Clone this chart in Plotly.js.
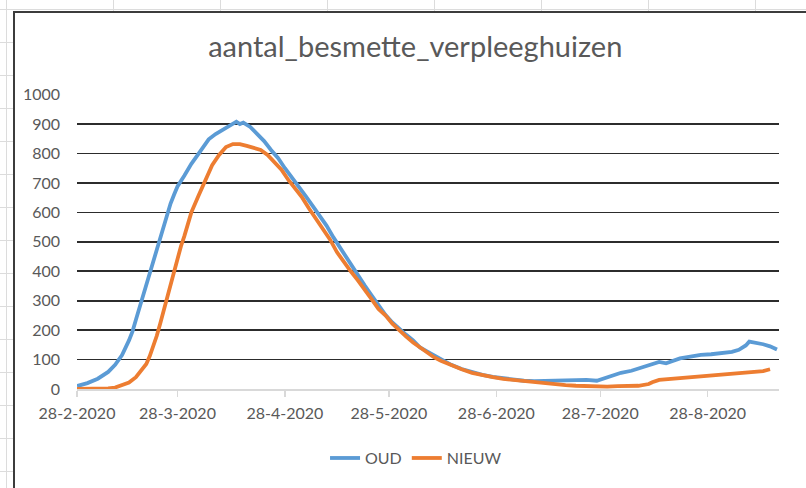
<!DOCTYPE html>
<html><head><meta charset="utf-8">
<script src="https://cdn.plot.ly/plotly-3.0.1.min.js"></script>
<style>
html,body{margin:0;padding:0;width:806px;height:488px;overflow:hidden;background:#fff;}
body{background-image:
  repeating-linear-gradient(to right, transparent 0 6px, #dcdcdc 6px 7px, transparent 7px 107px),
  repeating-linear-gradient(to bottom, transparent 0 9px, #dcdcdc 9px 10px, transparent 10px 33px);}
#frame{position:absolute;left:13px;top:11px;width:793px;height:477px;border-left:2px solid #3c3c3c;border-top:2px solid #3c3c3c;background:#fff;}
#chart{width:791px;height:475px;}
</style></head>
<body>
<div id="frame"><div id="chart"></div></div>
<script>
const chartTitle = 'aantal_besmette_verpleeghuizen';
const tickDates = ['2020-02-28','2020-03-28','2020-04-28','2020-05-28','2020-06-28','2020-07-28','2020-08-28'];
const tickLabels = ['28-2-2020','28-3-2020','28-4-2020','28-5-2020','28-6-2020','28-7-2020','28-8-2020'];
const yTicks = [0,100,200,300,400,500,600,700,800,900,1000];

const oudDates = ['2020-02-28','2020-03-02','2020-03-05','2020-03-08','2020-03-10','2020-03-12','2020-03-14',
 '2020-03-15','2020-03-16','2020-03-17','2020-03-18','2020-03-19','2020-03-20','2020-03-21','2020-03-22','2020-03-23','2020-03-24','2020-03-25','2020-03-26','2020-03-27','2020-03-28',
 '2020-03-30','2020-04-01','2020-04-03','2020-04-05','2020-04-06','2020-04-08','2020-04-10','2020-04-12','2020-04-14','2020-04-15','2020-04-16',
 '2020-04-18','2020-04-20','2020-04-22','2020-04-24','2020-04-26','2020-04-28','2020-04-30','2020-05-02','2020-05-04','2020-05-06','2020-05-08','2020-05-10','2020-05-12','2020-05-14','2020-05-16','2020-05-18',
 '2020-05-19','2020-05-21','2020-05-23','2020-05-25','2020-05-27','2020-05-29','2020-05-31','2020-06-02','2020-06-04','2020-06-06','2020-06-08','2020-06-10','2020-06-12',
 '2020-06-15','2020-06-18','2020-06-21','2020-06-24','2020-06-27','2020-06-30','2020-07-03','2020-07-06','2020-07-09','2020-07-12','2020-07-15','2020-07-18','2020-07-21','2020-07-24','2020-07-27',
 '2020-07-29','2020-07-31','2020-08-03','2020-08-06','2020-08-09','2020-08-12','2020-08-14','2020-08-16','2020-08-18','2020-08-20','2020-08-23','2020-08-26','2020-08-29','2020-09-01','2020-09-04','2020-09-06','2020-09-08','2020-09-09','2020-09-11','2020-09-13','2020-09-15','2020-09-17'];
const oud = [10,20,35,58,82,115,165,
 195,235,275,315,355,400,440,480,520,560,600,630,660,688,
 725,765,798,828,848,866,880,895,908,900,905,
 890,866,842,812,785,750,720,690,655,622,590,555,515,478,440,405,
 390,352,318,283,252,226,203,184,165,141,128,114,100,
 82,68,57,48,41,36,31,28,27,28,27,29,30,31,28,
 35,42,55,62,74,84,92,87,95,104,110,116,118,121,126,133,148,161,157,152,145,134];

const nieuwDates = ['2020-02-28','2020-03-04','2020-03-08','2020-03-10','2020-03-12','2020-03-14','2020-03-16','2020-03-17','2020-03-18','2020-03-19','2020-03-20','2020-03-21','2020-03-22','2020-03-23','2020-03-24','2020-03-25','2020-03-26','2020-03-27','2020-03-28','2020-03-29','2020-03-30',
 '2020-04-01','2020-04-03','2020-04-05','2020-04-07','2020-04-09','2020-04-11','2020-04-13','2020-04-15','2020-04-17','2020-04-19','2020-04-21','2020-04-23','2020-04-25','2020-04-27','2020-04-29',
 '2020-05-01','2020-05-03','2020-05-05','2020-05-07','2020-05-09','2020-05-11','2020-05-13','2020-05-15','2020-05-17','2020-05-19','2020-05-21','2020-05-23','2020-05-25','2020-05-27','2020-05-29','2020-05-31',
 '2020-06-02','2020-06-04','2020-06-06','2020-06-08','2020-06-10','2020-06-12',
 '2020-06-15','2020-06-18','2020-06-21','2020-06-24','2020-06-27','2020-06-30','2020-07-03','2020-07-06','2020-07-09','2020-07-12','2020-07-15','2020-07-18','2020-07-21','2020-07-24','2020-07-27',
 '2020-07-30','2020-08-02','2020-08-05','2020-08-08','2020-08-11',
 '2020-08-12','2020-08-14','2020-08-17','2020-08-20','2020-08-23','2020-08-26','2020-08-29','2020-09-01','2020-09-04','2020-09-07','2020-09-10','2020-09-13','2020-09-15'];
const nieuw = [0,0,2,5,12,22,40,55,68,85,112,145,180,222,265,310,360,405,445,485,520,
 600,655,705,760,795,822,832,832,826,818,812,795,770,745,710,
 680,650,612,578,545,508,465,430,400,370,335,305,272,250,222,198,
 178,158,140,122,108,96,
 80,67,55,46,40,34,30,27,23,20,15,13,11,9,7,
 8,10,10,11,17,
 23,31,34,37,40,42,44,46,49,52,56,61,67];

const font = 'Lato, "Open Sans", sans-serif';
const grey = '#595959';

const traces = [
  {x: oudDates, y: oud, name: 'OUD', type: 'scatter', mode: 'lines',
   line: {color: '#5b9bd5', width: 3.8}},
  {x: nieuwDates, y: nieuw, name: 'NIEUW', type: 'scatter', mode: 'lines',
   line: {color: '#ed7d31', width: 3.8}}
];

const layout = {
  width: 791, height: 475,
  margin: {l: 62, r: 27, t: 81, b: 99},
  paper_bgcolor: '#ffffff', plot_bgcolor: '#ffffff',
  font: {family: font, color: grey, size: 16},
  title: {text: chartTitle, font: {family: font, size: 29, color: grey},
          xref: 'container', x: 0.506, xanchor: 'center',
          yref: 'container', y: 0.928, yanchor: 'middle'},
  xaxis: {type: 'date', range: ['2020-02-28', '2020-09-17 14:00'],
          tickmode: 'array', tickvals: tickDates, ticktext: tickLabels,
          showgrid: false, zeroline: false,
          showline: true, linecolor: '#d9d9d9', linewidth: 1.5,
          ticks: 'outside', ticklen: 6, tickcolor: '#d9d9d9', tickwidth: 1.5,
          tickfont: {family: font, size: 16, color: grey}, ticklabelstandoff: 3},
  yaxis: {range: [0, 1002], tickmode: 'array', tickvals: yTicks,
          showgrid: true, gridcolor: '#2c2c2c', gridwidth: 1.7,
          zeroline: false, showline: false, ticks: '',
          tickfont: {family: font, size: 16, color: grey}, ticklabelstandoff: 16},
  showlegend: true,
  legend: {orientation: 'h', xref: 'container', x: 0.507, xanchor: 'center',
           yref: 'container', y: 0.063, yanchor: 'middle',
           font: {family: font, size: 16, color: grey}, bgcolor: 'rgba(0,0,0,0)'}
};

Plotly.newPlot('chart', traces, layout, {staticPlot: true, displayModeBar: false});
</script>
</body></html>
